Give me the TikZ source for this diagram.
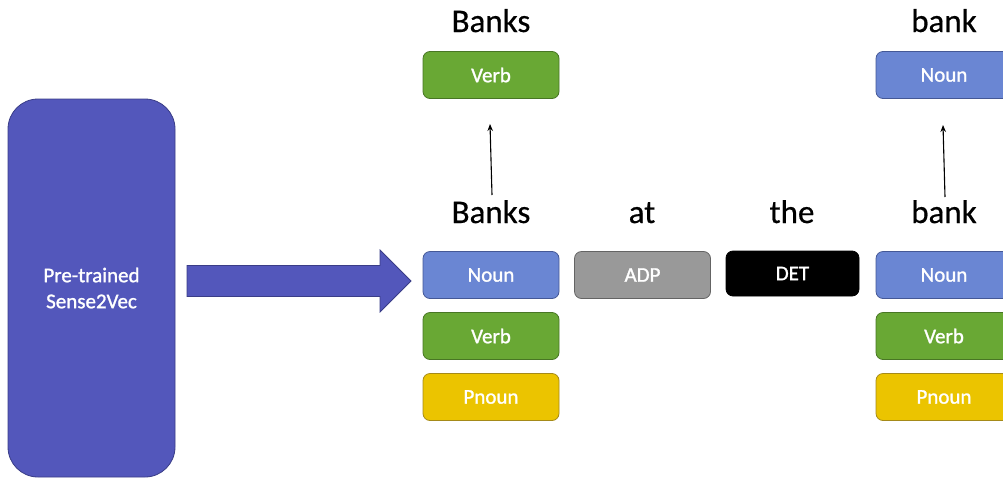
\documentclass[tikz,border=0pt]{standalone}
\usepackage{fontspec}
\setmainfont{Carlito}
\newfontfamily\tagfont[FakeBold=1.2]{Carlito}
\newfontfamily\wordfont[FakeBold=0.6]{Carlito}
\usetikzlibrary{calc,arrows.meta}
\definecolor{sensefill}{RGB}{83,87,187}
\definecolor{senseedge}{RGB}{58,61,135}
\definecolor{nounfill}{RGB}{106,134,211}
\definecolor{nounedge}{RGB}{68,88,150}
\definecolor{verbfill}{RGB}{105,168,52}
\definecolor{verbedge}{RGB}{72,118,36}
\definecolor{pnounfill}{RGB}{235,196,0}
\definecolor{pnounedge}{RGB}{165,138,25}
\definecolor{adpfill}{RGB}{153,153,153}
\definecolor{adpedge}{RGB}{100,100,100}
\begin{document}
\begin{tikzpicture}[x=1pt,y=-1pt,
  tag/.style={draw, line width=0.8pt, rounded corners=7pt, minimum width=136pt,
    minimum height=47pt, inner sep=0pt, text=white, font=\tagfont\fontsize{21}{25}\selectfont},
  nountag/.style={tag, fill=nounfill, draw=nounedge},
  verbtag/.style={tag, fill=verbfill, draw=verbedge},
  pnountag/.style={tag, fill=pnounfill, draw=pnounedge},
  adptag/.style={tag, fill=adpfill, draw=adpedge},
  dettag/.style={tag, fill=black, draw=black, minimum width=133pt, minimum height=45pt},
  word/.style={font=\wordfont\fontsize{33}{40}\selectfont, inner sep=0pt, anchor=base},
  ptr/.style={-{Stealth[length=7pt,width=5.5pt]}, line width=1.1pt}]
\useasboundingbox (0,0) rectangle (1003,477);
\clip (0,0) rectangle (1003,477);

% pre-trained model block
\node[draw=senseedge, fill=sensefill, line width=0.8pt, rounded corners=30pt,
      minimum width=167pt, minimum height=378pt, text=white, align=center,
      font=\tagfont\fontsize{21}{26}\selectfont] (s2v) at (91.5,288) {Pre-trained\\Sense2Vec};

% block arrow into the tagged sentence
\coordinate (tail) at (187,281);
\coordinate (tip) at (411,281);
\draw[draw=senseedge, fill=sensefill, line width=0.8pt]
  ($(tail)+(0,-15.5)$) -- ($(tip)+(-31,-15.5)$) -- ($(tip)+(-31,-31)$) -- (tip)
  -- ($(tip)+(-31,31)$) -- ($(tip)+(-31,15.5)$) -- ($(tail)+(0,15.5)$) -- cycle;

% sentence words
\node[word] (w1) at (491,223) {Banks};
\node[word] (w2) at (642,223) {at};
\node[word] (w3) at (792,223) {the};
\node[word] (w4) at (944,223) {bank};

% candidate senses per word
\node[nountag]  (b1) at (491,275) {Noun};
\node[verbtag]  (b2) at (491,336) {Verb};
\node[pnountag] (b3) at (491,397) {Pnoun};
\node[adptag]   (a1) at (642.5,275) {ADP};
\node[dettag]   (d1) at (792.5,273.5) {DET};
\node[nountag]  (k1) at (944,275) {Noun};
\node[verbtag]  (k2) at (944,336) {Verb};
\node[pnountag] (k3) at (944,397) {Pnoun};

% chosen senses
\node[word] (t1) at (491,32) {Banks};
\node[verbtag] (s1) at (491,75) {Verb};
\node[word] (t4) at (944,32) {bank};
\node[nountag] (s4) at (944,75) {Noun};

% disambiguation pointers
\coordinate (p1a) at (492,195);
\coordinate (p1b) at (490,124);
\coordinate (p4a) at (945,197);
\coordinate (p4b) at (943,125);
\draw[ptr] (p1a) -- (p1b);
\draw[ptr] (p4a) -- (p4b);
\end{tikzpicture}
\end{document}
